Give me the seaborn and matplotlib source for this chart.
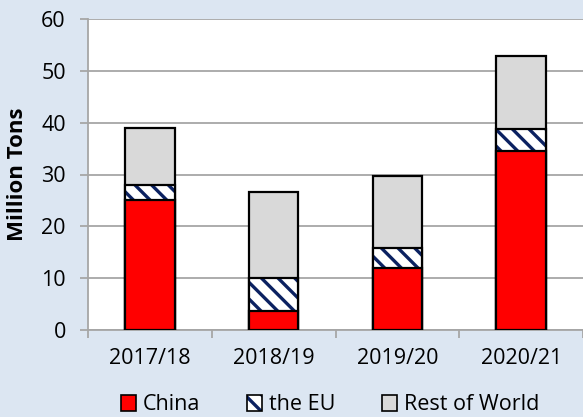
import matplotlib
matplotlib.use("Agg")
import matplotlib.pyplot as plt
import seaborn as sns
import numpy as np
from matplotlib.patches import Patch
from matplotlib.ticker import FixedLocator
from matplotlib.legend_handler import HandlerTuple

seasons = ["2017/18", "2018/19", "2019/20", "2020/21"]
china = [25.1, 3.7, 11.9, 34.5]
eu = [2.8, 6.4, 4.0, 4.2]
rest_of_world = [11.0, 16.5, 13.8, 14.2]

bg = "#DCE6F2"
navy = "#0B2161"
grey_line = "#A6A6A6"

sns.set_style("white")
plt.rcParams["font.family"] = ["Open Sans", "DejaVu Sans"]
plt.rcParams["hatch.linewidth"] = 2.4
plt.rcParams["text.color"] = "black"
plt.rcParams["xtick.color"] = "black"
plt.rcParams["ytick.color"] = "black"
plt.rcParams["axes.labelcolor"] = "black"

china_arr = np.array(china)
eu_top = china_arr + np.array(eu)
total = eu_top + np.array(rest_of_world)

fig = plt.figure(figsize=(5.83, 4.17), dpi=100, facecolor=bg)
ax = fig.add_axes([88 / 583, 1 - 330 / 417, 1 - 88 / 583, 311 / 417])
ax.set_facecolor("white")

# stacked bars drawn back to front
sns.barplot(x=seasons, y=total, color="#D9D9D9", saturation=1, width=0.4,
            edgecolor="black", linewidth=1.6, ax=ax, zorder=3)
sns.barplot(x=seasons, y=eu_top, color="white", saturation=1, width=0.4,
            edgecolor=navy, linewidth=0, hatch="\\\\", ax=ax, zorder=3)
sns.barplot(x=seasons, y=eu_top, fill=False, color="black", width=0.4,
            linewidth=1.6, ax=ax, zorder=3)
sns.barplot(x=seasons, y=china, color="#FF0000", saturation=1, width=0.4,
            edgecolor="black", linewidth=1.6, ax=ax, zorder=3)

ax.set_ylim(0, 60)
ax.set_xlim(-0.5, 3.5)
ax.set_yticks(range(0, 61, 10))
ax.yaxis.grid(True, color=grey_line, linewidth=1.3)
ax.set_axisbelow(True)

for side in ["top", "right"]:
    ax.spines[side].set_visible(False)
for side in ["left", "bottom"]:
    ax.spines[side].set_color(grey_line)
    ax.spines[side].set_linewidth(1.3)

ax.tick_params(axis="y", direction="out", length=6, width=1.3, color=grey_line,
               labelsize=15.5, pad=10, left=True)
ax.tick_params(axis="x", which="major", length=0, labelsize=15.5, pad=13)
ax.xaxis.set_minor_locator(FixedLocator([-0.5, 0.5, 1.5, 2.5, 3.5]))
ax.tick_params(axis="x", which="minor", direction="out", length=6, width=1.3,
               color=grey_line, bottom=True)

ax.set_xlabel("")
ax.set_ylabel("Million Tons", fontsize=16, fontweight="bold")
ax.yaxis.set_label_coords((28 - 88) / 495, 0.5)

handles = [
    Patch(facecolor="#FF0000", edgecolor="black", linewidth=1.2),
    (Patch(facecolor="white", edgecolor=navy, linewidth=0, hatch="\\\\"),
     Patch(facecolor="none", edgecolor="black", linewidth=1.2)),
    Patch(facecolor="#D9D9D9", edgecolor="black", linewidth=1.2),
]
leg = ax.legend(handles, ["China", "the EU", "Rest of World"], ncol=3,
                loc="center", bbox_to_anchor=((330 - 88) / 495, -(405 - 330) / 311),
                frameon=False, fontsize=15.5, handlelength=0.7, handleheight=0.7,
                handletextpad=0.3, columnspacing=2.2,
                handler_map={tuple: HandlerTuple(ndivide=1, pad=0)})

fig.savefig("out.png", dpi=100, facecolor=bg)
